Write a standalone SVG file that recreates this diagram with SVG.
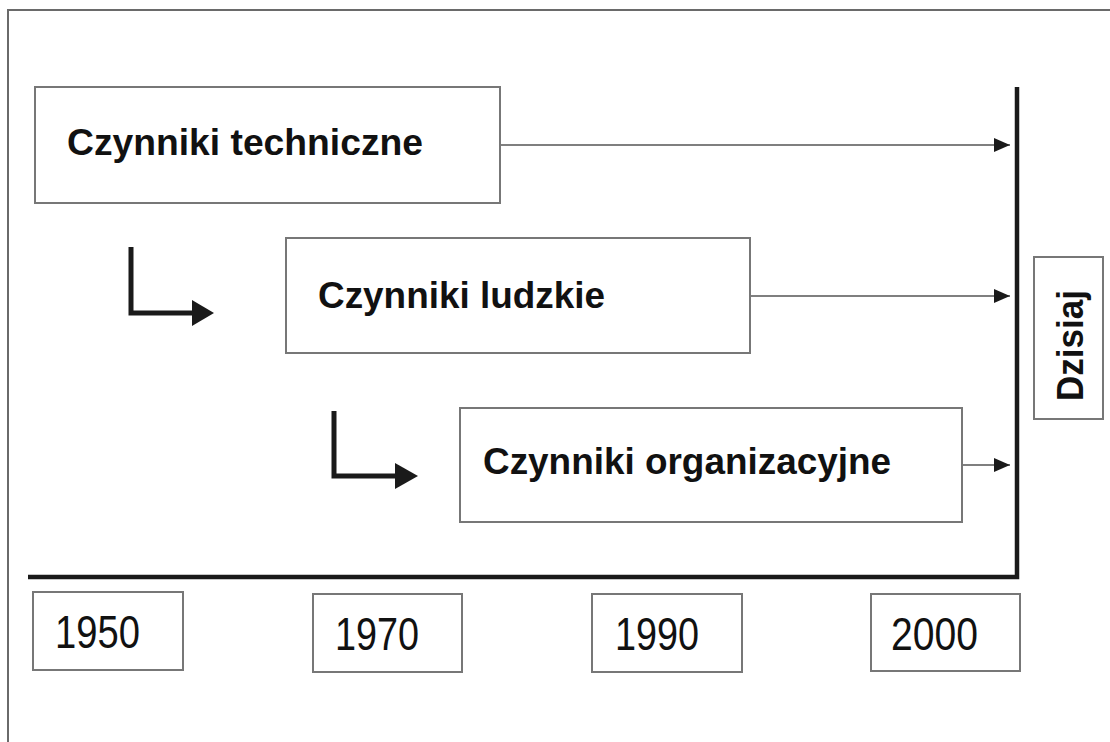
<svg xmlns="http://www.w3.org/2000/svg" width="1110" height="742" viewBox="0 0 1110 742">
<style>
.box{fill:#fff;stroke:#777;stroke-width:2}
.lbl{font-family:"Liberation Sans",Arial,sans-serif;font-weight:bold;font-size:37px;fill:#111}
.yr{font-family:"Liberation Sans",Arial,sans-serif;font-size:47px;fill:#111}
.thin{stroke:#555;stroke-width:1.5;fill:none}
.axis{stroke:#1a1a1a;stroke-width:4.5;fill:none}
.bend{stroke:#1a1a1a;stroke-width:5;fill:none}
</style>
<defs>
<marker id="ah" markerWidth="16" markerHeight="14" refX="16" refY="7" orient="auto" markerUnits="userSpaceOnUse">
<path d="M0,0 L16,7 L0,14 Z" fill="#1a1a1a"/>
</marker>
</defs>
<rect width="1110" height="742" fill="#fff"/>
<path d="M8,742 L8,10 L1110,10" stroke="#6a6a6a" stroke-width="2" fill="none"/>

<g id="connectors">
<line class="thin" x1="500" y1="145" x2="1010" y2="145" marker-end="url(#ah)"/>
<line class="thin" x1="750" y1="296" x2="1010" y2="296" marker-end="url(#ah)"/>
<line class="thin" x1="962" y1="465" x2="1010" y2="465" marker-end="url(#ah)"/>
<path class="axis" d="M28,577 L1017,577 L1017,87"/>
<path class="bend" d="M131,247 L131,313 L194,313"/>
<path d="M192,300 L214,313 L192,326 Z" fill="#1a1a1a"/>
<path class="bend" d="M334,411 L334,476 L397,476"/>
<path d="M395,463 L418,476 L395,489 Z" fill="#1a1a1a"/>
</g>

<g id="node-techniczne">
<rect class="box" x="35" y="87" width="465" height="116"/>
<text class="lbl" x="67" y="155" textLength="356" lengthAdjust="spacingAndGlyphs">Czynniki techniczne</text>
</g>
<g id="node-ludzkie">
<rect class="box" x="286" y="238" width="464" height="115"/>
<text class="lbl" x="318" y="308" textLength="287" lengthAdjust="spacingAndGlyphs">Czynniki ludzkie</text>
</g>
<g id="node-organizacyjne">
<rect class="box" x="460" y="408" width="502" height="114"/>
<text class="lbl" x="483" y="474" textLength="408" lengthAdjust="spacingAndGlyphs">Czynniki organizacyjne</text>
</g>
<g id="node-dzisiaj">
<rect class="box" x="1034" y="257" width="69" height="162"/>
<text class="lbl" transform="translate(1083,401) rotate(-90)" x="0" y="0" font-size="37" textLength="111" lengthAdjust="spacingAndGlyphs">Dzisiaj</text>
</g>

<g id="year-1950">
<rect class="box" x="33" y="592" width="150" height="78"/>
<text class="yr" x="55" y="648" textLength="85" lengthAdjust="spacingAndGlyphs">1950</text>
</g>
<g id="year-1970">
<rect class="box" x="313" y="594" width="149" height="78"/>
<text class="yr" x="335" y="650" textLength="84" lengthAdjust="spacingAndGlyphs">1970</text>
</g>
<g id="year-1990">
<rect class="box" x="592" y="594" width="150" height="78"/>
<text class="yr" x="615" y="650" textLength="84" lengthAdjust="spacingAndGlyphs">1990</text>
</g>
<g id="year-2000">
<rect class="box" x="871" y="594" width="149" height="77"/>
<text class="yr" x="891" y="650" textLength="87" lengthAdjust="spacingAndGlyphs">2000</text>
</g>
</svg>
